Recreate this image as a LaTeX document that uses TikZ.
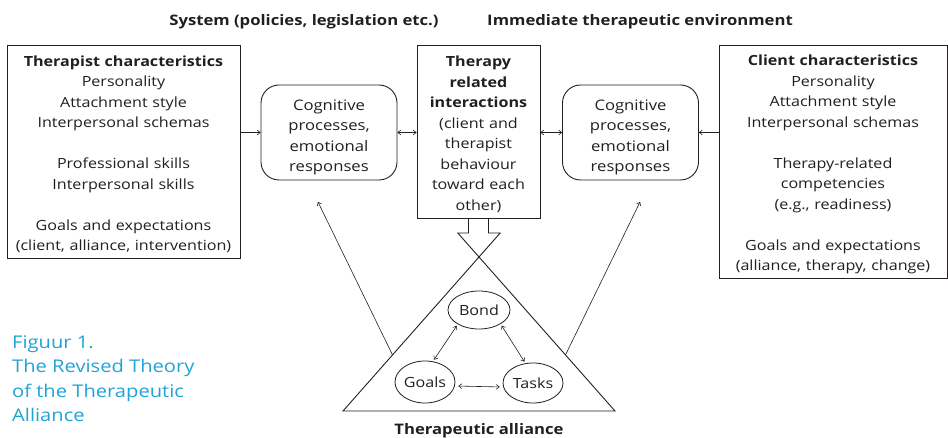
\documentclass[tikz,border=0pt]{standalone}
\usepackage{fontspec}
\setmainfont{Open Sans}[FakeStretch=1.15]
\usetikzlibrary{shapes.geometric,calc,arrows.meta}
\definecolor{inkgrey}{HTML}{231F20}
\definecolor{figblue}{HTML}{1FA3D8}

\begin{document}
\begin{tikzpicture}[x=1pt,y=-1pt,>={To[length=3.5pt,width=5pt]},
    outline/.style={draw=inkgrey,line width=0.9pt},
    box/.style={outline,align=center,inner sep=0pt,execute at begin node={\rule{0pt}{16.5pt}}},
    cog/.style={box,rounded corners=18pt,minimum width=136,minimum height=95,text width=130,
      font=\fontsize{14.5}{20.3}\selectfont,execute at begin node={\rule{0pt}{20.5pt}}},
    oval/.style={outline,ellipse,line width=0.8pt,inner sep=0pt},
    link/.style={draw=inkgrey,line width=0.6pt},
    heading/.style={font=\fontsize{14.5}{18}\selectfont\bfseries},
    font=\fontsize{14}{20.5}\selectfont, text=inkgrey]

      \useasboundingbox (0,0) rectangle (948,438);

      \node[heading] (system) at (304,21.5) {System (policies, legislation etc.)};
      \node[heading] (environment) at (640,21.5) {Immediate therapeutic environment};

      \node[box, minimum width=233, minimum height=213, text width=231] (therapist) at (123.5,151.5)
        {\textbf{Therapist characteristics}\\ Personality\\ Attachment style\\ Interpersonal schemas\\[20.5pt]
         Professional skills\\ Interpersonal skills\\[20.5pt] Goals and expectations\\ (client, alliance, intervention)};
      \node[box, minimum width=123, minimum height=173, text width=121] (inter) at (478.5,131.5)
        {\textbf{Therapy}\\ \textbf{related}\\ \textbf{interactions}\\ (client and\\ therapist\\ behaviour\\ toward each\\ other)};
      \node[box, minimum width=228, minimum height=233, text width=226] (client) at (833,161.5)
        {\textbf{Client characteristics}\\ Personality\\ Attachment style\\ Interpersonal schemas\\[20.5pt]
         Therapy-related\\ competencies\\ (e.g., readiness)\\[20.5pt] Goals and expectations\\ (alliance, therapy, change)};

      \node[cog] (lcog) at (329,132.5) {Cognitive\\ processes,\\ emotional\\ responses};
      \node[cog] (rcog) at (630.5,132.5) {Cognitive\\ processes,\\ emotional\\ responses};

      \draw[link,->] (therapist.east |- lcog) -- (lcog.west);
      \draw[link,<->] (lcog.east) -- (lcog.east -| inter.west);
      \draw[link,<->] (inter.east |- rcog) -- (rcog.west);
      \draw[link,->] (client.west |- rcog) -- (rcog.east);

      \coordinate (apex) at (479,257);
      \coordinate (bl) at (343,411);
      \coordinate (br) at (615,411);
      \draw[outline] (bl) -- (apex) -- (br) -- cycle;
      \draw[outline] ([xshift=-10pt]inter.south) |- ($(apex)!-0.156!(br)$) -- (apex)
        -- ($(apex)!-0.156!(bl)$) -| ([xshift=10pt]inter.south);
      \node[heading] (alliance) at (479,431) {Therapeutic alliance};

      \coordinate (lreach) at (318,202);
      \coordinate (rreach) at (640,202);
      \draw[link,->] ($(apex)!0.636!(bl)$) -- (lreach);
      \draw[link,->] ($(apex)!0.636!(br)$) -- (rreach);

      \node[oval, minimum width=62, minimum height=38] (bond) at (479,310) {Bond};
      \node[oval, minimum width=60, minimum height=42] (goals) at (425,382) {Goals};
      \node[oval, minimum width=60, minimum height=40] (tasks) at (533,383) {Tasks};
      \draw[link,<->,shorten <=2pt,shorten >=2pt] (bond.214) -- (goals.69);
      \draw[link,<->,shorten <=2pt,shorten >=2pt] (bond.327) -- (tasks.111);
      \draw[link,<->,shorten <=3pt,shorten >=3pt] ([yshift=-4pt]goals.east) -- ([yshift=-4pt]tasks.west);

      \node[anchor=north west, align=left, inner sep=0pt, text=figblue, font=\fontsize{17.5}{24.3}\selectfont] (caption) at (12,335.5)
        {Figuur 1.\\ The Revised Theory\\ of the Therapeutic\\ Alliance};

    \end{tikzpicture}
\end{document}
